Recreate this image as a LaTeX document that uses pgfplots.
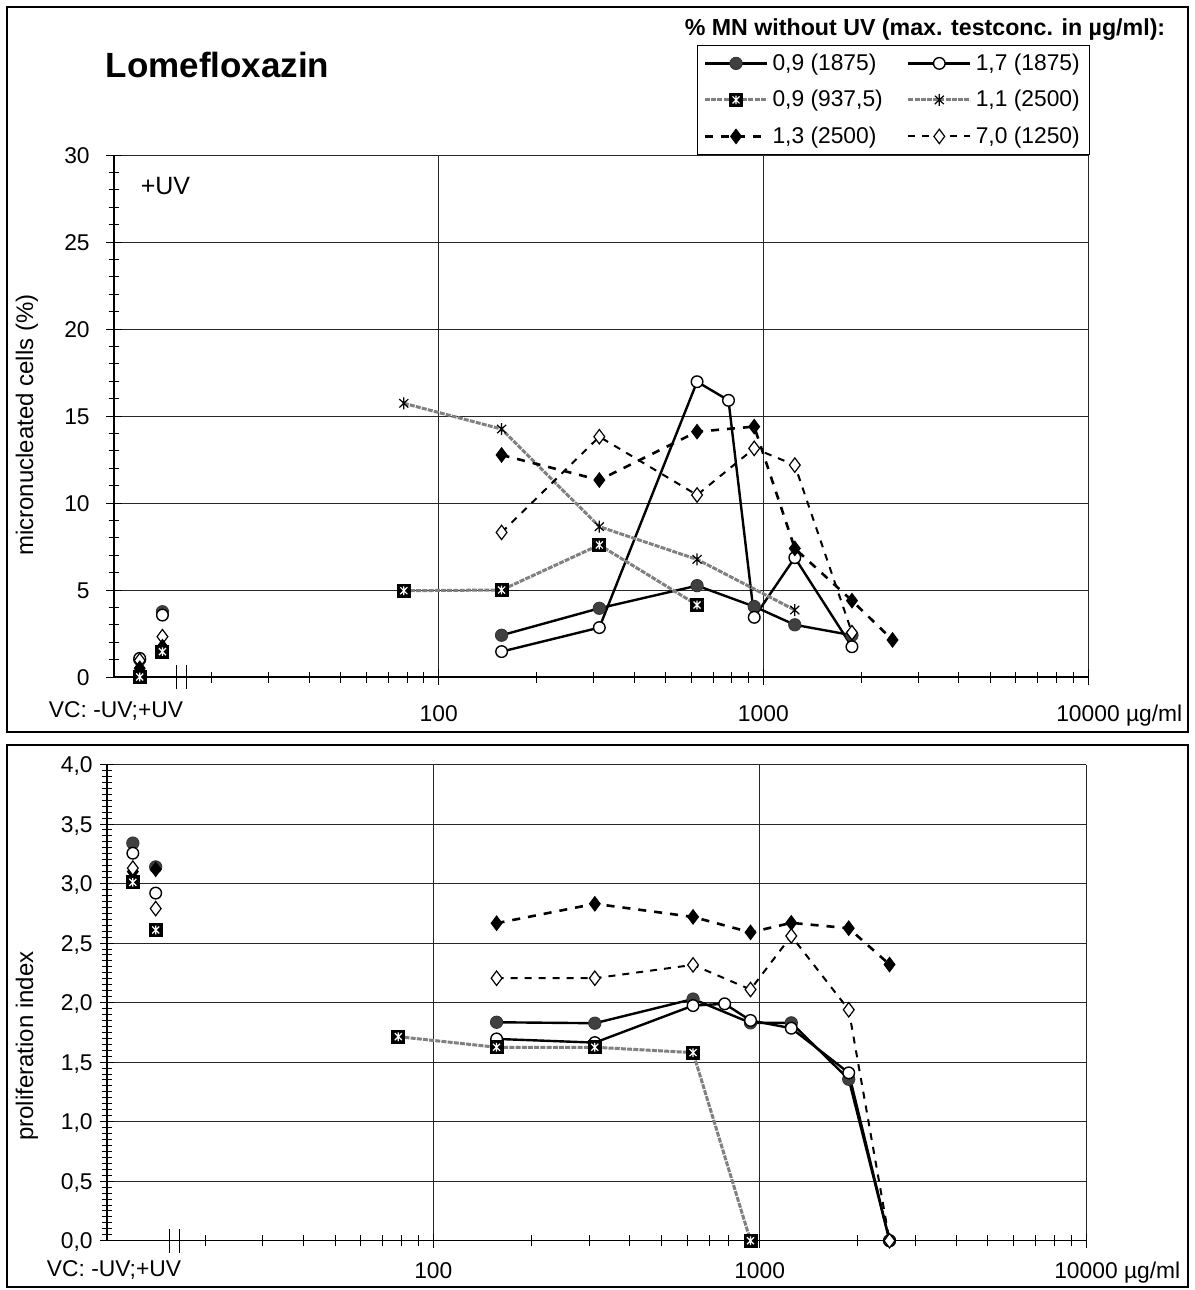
\documentclass[border=0pt]{standalone}
\usepackage{fontspec}
\setmainfont{Liberation Sans}
\usepackage{pgfplots}
\pgfplotsset{compat=1.18}

\pgfdeclareplotmark{astx}{%
  \pgfpathmoveto{\pgfqpoint{0pt}{-\pgfplotmarksize}}%
  \pgfpathlineto{\pgfqpoint{0pt}{\pgfplotmarksize}}%
  \pgfpathmoveto{\pgfqpoint{-0.75\pgfplotmarksize}{-0.7\pgfplotmarksize}}%
  \pgfpathlineto{\pgfqpoint{0.75\pgfplotmarksize}{0.7\pgfplotmarksize}}%
  \pgfpathmoveto{\pgfqpoint{-0.75\pgfplotmarksize}{0.7\pgfplotmarksize}}%
  \pgfpathlineto{\pgfqpoint{0.75\pgfplotmarksize}{-0.7\pgfplotmarksize}}%
  \pgfusepathqstroke
}
\pgfdeclareplotmark{sqast}{%
  \pgfpathrectangle{\pgfqpoint{-\pgfplotmarksize}{-\pgfplotmarksize}}{\pgfqpoint{2\pgfplotmarksize}{2\pgfplotmarksize}}%
  \pgfsetfillcolor{black}%
  \pgfusepathqfill
  \pgfsetstrokecolor{white}%
  \pgfsetlinewidth{0.6pt}%
  \pgfpathmoveto{\pgfqpoint{0pt}{-0.62\pgfplotmarksize}}%
  \pgfpathlineto{\pgfqpoint{0pt}{0.62\pgfplotmarksize}}%
  \pgfpathmoveto{\pgfqpoint{-0.5\pgfplotmarksize}{-0.5\pgfplotmarksize}}%
  \pgfpathlineto{\pgfqpoint{0.5\pgfplotmarksize}{0.5\pgfplotmarksize}}%
  \pgfpathmoveto{\pgfqpoint{-0.5\pgfplotmarksize}{0.5\pgfplotmarksize}}%
  \pgfpathlineto{\pgfqpoint{0.5\pgfplotmarksize}{-0.5\pgfplotmarksize}}%
  \pgfusepathqstroke
}

\tikzset{
  sA/.style={black, line width=1.2pt, mark=*, mark size=3.1pt, mark options={solid, fill=black!75, draw=black!80, line width=0.4pt}},
  sB/.style={black, line width=1.2pt, mark=*, mark size=2.9pt, mark options={solid, fill=white, draw=black, line width=0.7pt}},
  sC/.style={draw=black!50, line width=1.5pt, dash pattern=on 2.5pt off 0.6pt, mark=sqast, mark size=3.5pt, mark options={solid}},
  sD/.style={draw=black!50, line width=1.5pt, dash pattern=on 2.5pt off 0.6pt, mark=astx, mark size=3pt, mark options={solid, draw=black, line width=0.6pt}},
  sE/.style={black, line width=1.3pt, dash pattern=on 4pt off 4pt, mark=diamond*, mark size=3.6pt, mark options={solid, fill=black, line width=0.5pt}},
  sF/.style={black, line width=1.0pt, dash pattern=on 3.5pt off 3.5pt, mark=diamond*, mark size=3.6pt, mark options={solid, fill=white, draw=black, line width=0.6pt}},
}

\pgfplotsset{
  legend image code/.code={\draw[mark repeat=2,mark phase=2,#1] plot coordinates {(0pt,0pt) (15.5pt,0pt) (31pt,0pt)};},
  every axis/.append style={
    xmode=log, xmin=10, xmax=10000, clip=false, scale only axis,
    axis lines=left, axis line style={-, line width=0.6pt, black},
    xtick={100,1000,10000},
    minor xtick={20,30,40,50,60,70,80,90,200,300,400,500,600,700,800,900,2000,3000,4000,5000,6000,7000,8000,9000},
    extra x ticks={15.55,16.7}, extra x tick labels={},
    extra x tick style={grid=none, major tick length=12pt},
    tick align=center, minor tick length=5.5pt,
    xmajorgrids, ymajorgrids, grid style={black!85, line width=0.5pt},
    tick style={black, line width=0.5pt},
    tick label style={font=\fontsize{11.4}{13}\selectfont},
  },
}

\begin{document}
\begin{tikzpicture}
\useasboundingbox (0,0) rectangle (597pt,-645pt);
\draw[line width=0.75pt] (3.5pt,-3.5pt) rectangle (594pt,-366pt);
\draw[line width=0.75pt] (3.5pt,-372.5pt) rectangle (594pt,-643.5pt);

% ---------------- top panel: micronucleated cells
\begin{axis}[
  at={(57pt,-338.5pt)}, anchor=south west, width=487pt, height=261pt,
  ymin=0, ymax=30, ytick={0,5,...,30}, yticklabels={0,5,10,15,20,25,30},
  minor y tick num=4, major tick length=8pt,
  xticklabels={100,1000,{10000\rlap{ µg/ml}}},
  xticklabel style={anchor=base, inner sep=0pt, yshift=-18pt},
  yticklabel style={anchor=base east, inner sep=0pt, xshift=-8pt, yshift=-4.1pt},
  legend columns=2, legend cell align=left,
  legend style={at={(0.5985,1.2107)}, anchor=north west, draw=black, line width=0.6pt, fill=white,
    font=\fontsize{11.4}{13}\selectfont, inner xsep=3pt, inner ysep=2pt, row sep=4.5pt,
    /tikz/every even column/.append style={column sep=10pt}},
]
\addplot[sA] coordinates {(156.25,2.4) (312.5,3.95) (625,5.25) (937.5,4.05) (1250,3.0) (1875,2.4)};
\addlegendentry{0,9 (1875)}
\addplot[sB] coordinates {(156.25,1.46) (312.5,2.84) (625,16.97) (781.25,15.9) (937.5,3.43) (1250,6.86) (1875,1.74)};
\addlegendentry{1,7 (1875)}
\addplot[sC] coordinates {(78.125,4.96) (156.25,5.0) (312.5,7.59) (625,4.14)};
\addlegendentry{0,9 (937,5)}
\addplot[sD] coordinates {(78.125,15.73) (156.25,14.25) (312.5,8.64) (625,6.76) (1250,3.85)};
\addlegendentry{1,1 (2500)}
\addplot[sE] coordinates {(156.25,12.76) (312.5,11.32) (625,14.1) (937.5,14.39) (1250,7.39) (1875,4.39) (2500,2.13)};
\addlegendentry{1,3 (2500)}
\addplot[sF] coordinates {(156.25,8.31) (312.5,13.81) (625,10.46) (937.5,13.14) (1250,12.18) (1875,2.55)};
\addlegendentry{7,0 (1250)}
% vehicle controls (-UV ; +UV)
\addplot[sD, only marks, forget plot] coordinates {(12,0.0) (14.1,1.6)};
\addplot[sA, only marks, forget plot] coordinates {(12,1.0) (14.1,3.75)};
\addplot[sB, only marks, forget plot] coordinates {(12,1.07) (14.1,3.56)};
\addplot[sF, only marks, forget plot] coordinates {(12,0.95) (14.1,2.32)};
\addplot[sE, only marks, forget plot] coordinates {(12,0.5) (14.1,1.74)};
\addplot[sC, only marks, forget plot] coordinates {(12,0.0) (14.1,1.46)};
\end{axis}

% ---------------- bottom panel: proliferation index
\begin{axis}[
  at={(53.5pt,-620.35pt)}, anchor=south west, width=489.5pt, height=238.1pt,
  ymin=0, ymax=4, ytick={0,0.5,...,4},
  yticklabels={{0,0},{0,5},{1,0},{1,5},{2,0},{2,5},{3,0},{3,5},{4,0}},
  minor y tick num=9, major tick length=7pt,
  xticklabels={100,1000,{10000\rlap{ µg/ml}}},
  xticklabel style={anchor=base, inner sep=0pt, yshift=-15.5pt},
  yticklabel style={anchor=base east, inner sep=0pt, xshift=-3.5pt, yshift=-4.1pt},
]
\addplot[sA] coordinates {(156.25,1.835) (312.5,1.827) (625,2.03) (937.5,1.83) (1250,1.83) (1875,1.356) (2500,0)};
\addplot[sB] coordinates {(156.25,1.695) (312.5,1.664) (625,1.975) (781.25,1.99) (937.5,1.85) (1250,1.785) (1875,1.41) (2500,0)};
\addplot[sC] coordinates {(78.125,1.714) (156.25,1.625) (312.5,1.625) (625,1.58) (937.5,0)};
\addplot[sE] coordinates {(156.25,2.667) (312.5,2.83) (625,2.72) (937.5,2.59) (1250,2.67) (1875,2.625) (2500,2.32)};
\addplot[sF] coordinates {(156.25,2.205) (312.5,2.205) (625,2.317) (937.5,2.11) (1250,2.56) (1875,1.94) (2500,0)};
% vehicle controls (-UV ; +UV)
\addplot[sA, only marks] coordinates {(12,3.34) (14.1,3.14)};
\addplot[sE, only marks] coordinates {(12,3.1) (14.1,3.12)};
\addplot[sB, only marks] coordinates {(12,3.255) (14.1,2.92)};
\addplot[sF, only marks] coordinates {(12,3.13) (14.1,2.79)};
\addplot[sC, only marks] coordinates {(12,3.01) (14.1,2.61)};
\end{axis}

% ---------------- texts
\node[anchor=base, font=\fontsize{17.5}{20}\selectfont\bfseries] at (108.75pt,-38.5pt) {Lomefloxazin};
\node[anchor=base, font=\fontsize{11.6}{13}\selectfont\bfseries] at (462.5pt,-17.5pt) {\% MN without UV (max. testconc. in µg/ml):};
\node[anchor=base, font=\fontsize{12.5}{14}\selectfont] at (82.75pt,-97pt) {+UV};
\node[anchor=base, font=\fontsize{11.4}{13}\selectfont] at (58pt,-358.5pt) {VC: -UV;+UV};
\node[anchor=base, font=\fontsize{11.4}{13}\selectfont] at (57pt,-638pt) {VC: -UV;+UV};
\node[rotate=90, font=\fontsize{12}{14}\selectfont] at (13.5pt,-212.5pt) {micronucleated cells (\%)};
\node[rotate=90, font=\fontsize{12}{14}\selectfont] at (13.5pt,-523pt) {proliferation index};
\end{tikzpicture}
\end{document}
